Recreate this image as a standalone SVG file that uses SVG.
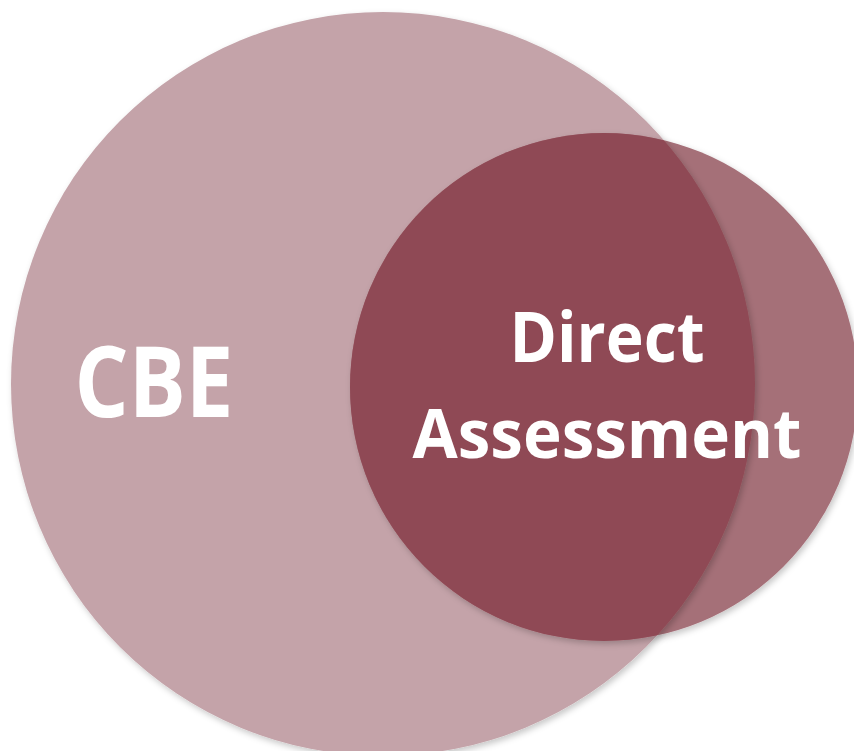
<svg xmlns="http://www.w3.org/2000/svg" width="854" height="751" viewBox="0 0 854 751">
<defs>
<filter id="sh" x="-10%" y="-10%" width="120%" height="120%">
<feDropShadow dx="2" dy="3" stdDeviation="3" flood-color="#000" flood-opacity="0.22"/>
</filter>
<clipPath id="smallClip"><circle cx="604" cy="387" r="254"/></clipPath>
<style>
.lbl{font-family:"Open Sans","Noto Sans",sans-serif;font-weight:bold;fill:#fff;text-anchor:middle}
</style>
</defs>
<rect width="854" height="751" fill="#fff"/>
<g id="cbe">
<circle cx="383" cy="384" r="372" fill="#c4a3a9" filter="url(#sh)"/>
<text class="lbl" x="154" y="417" font-size="98" textLength="159" lengthAdjust="spacingAndGlyphs">CBE</text>
</g>
<g id="direct-assessment">
<circle cx="604" cy="387" r="254" fill="#a56f78" filter="url(#sh)"/>
<g clip-path="url(#smallClip)">
<circle cx="383" cy="384" r="372" fill="#8f4a55" filter="url(#sh)"/>
</g>
<text class="lbl" x="607" y="362" font-size="70" textLength="195" lengthAdjust="spacingAndGlyphs">Direct</text>
<text class="lbl" x="607" y="458" font-size="68" textLength="389" lengthAdjust="spacingAndGlyphs">Assessment</text>
</g>
<g id="connectors"/>
</svg>
